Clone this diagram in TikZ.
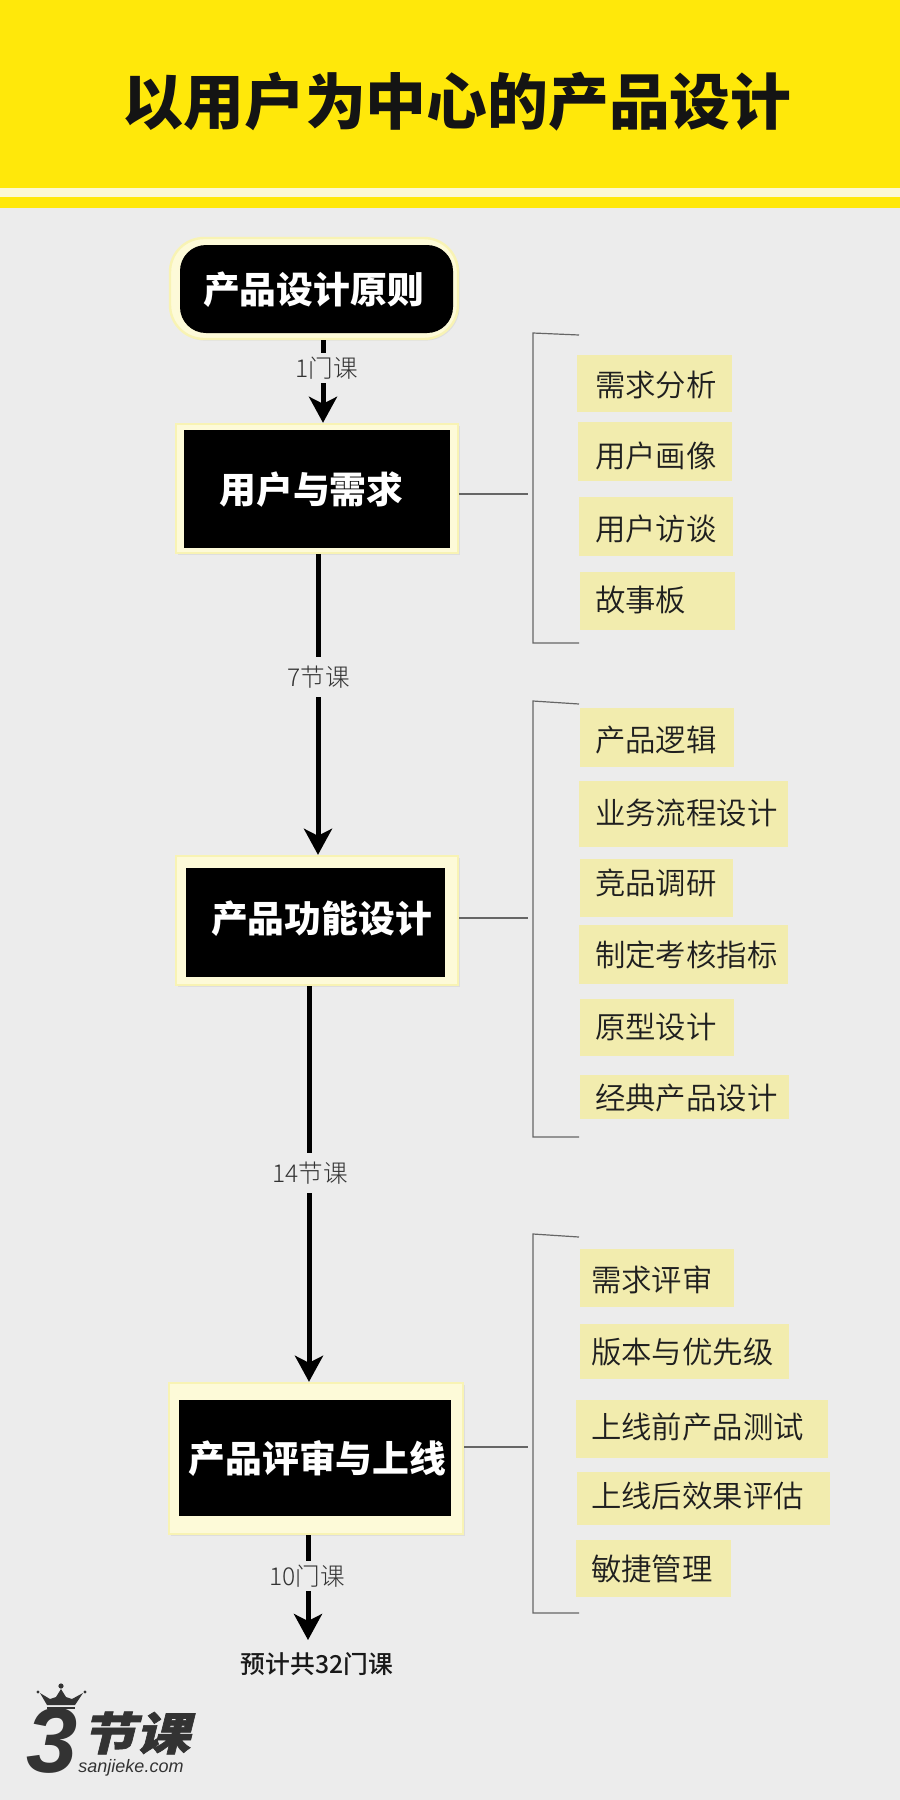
\documentclass[tikz,border=0pt]{standalone}
\usepackage{fontspec}
\usetikzlibrary{arrows.meta,shadows}
\setmainfont{Noto Sans CJK SC}
\newfontfamily\titlefont{Noto Sans CJK SC}
\newfontfamily\logocjk[FakeSlant=0.25,FakeBold=1.5,FakeStretch=1.2]{Noto Sans CJK SC}
\newfontfamily\logolat{Liberation Sans}
\newfontfamily\thinfont{Noto Sans CJK SC Light}
\newfontfamily\itemfont{Noto Sans CJK SC DemiLight}
\newfontfamily\midfont{Noto Sans CJK SC Medium}
\definecolor{bgc}{HTML}{ECECEC}
\definecolor{yel}{HTML}{FFE80A}
\definecolor{pale}{HTML}{FBF8D6}
\definecolor{creamc}{HTML}{FDFAD8}
\definecolor{creamedge}{HTML}{F8F3B4}
\definecolor{itemc}{HTML}{F2ECAE}
\definecolor{brk}{HTML}{666666}
\definecolor{logoc}{HTML}{333333}
\tikzset{
 outerbox/.style={fill=creamc,draw=creamedge,line width=1.2pt,inner sep=0pt,drop shadow={shadow xshift=.8pt,shadow yshift=-.8pt,opacity=.12}},
 innerbox/.style={fill=black,text=white,inner sep=0pt,font=\fontsize{18.4}{20}\selectfont\bfseries},
 itembox/.style={fill=itemc,inner ysep=0pt,align=left,text=black!88,font=\fontsize{15.2}{18}\itemfont},
 lesson/.style={fill=bgc,inner sep=0pt,minimum height=15pt,text=black!80,font=\fontsize{12.3}{14}\thinfont},
 flow/.style={line width=2.5pt,black},
 flowtip/.style={flow,-{Stealth[length=13pt,width=14pt,inset=3.5pt]}},
 bracket/.style={draw=brk,line width=.6pt},
 link/.style={draw=brk,line width=.6pt},
}
\newcommand{\nudge}[2]{\raisebox{#1}[.88em][.12em]{#2}}
% name, x1, y1, x2, y2, left padding, text raise, text
\newcommand{\itemnode}[8]{%
 \node[itembox,inner xsep=#6*0.5pt,text width={(#4-#2-2*#6)*0.5pt},minimum height={(#5-#3)*0.5pt}] (#1) at ({(#2+#4)/2},{(#3+#5)/2}) {\nudge{#7}{#8}};}
% name, x1, y1, x2, y2
\newcommand{\boxnode}[6]{%
 \node[#6,minimum width={(#4-#2)*0.5pt},minimum height={(#5-#3)*0.5pt}] (#1) at ({(#2+#4)/2},{(#3+#5)/2}) {};}
\newcommand{\shifted}[2]{\makebox[0pt][c]{\hspace*{#1}#2}}
\begin{document}
\begin{tikzpicture}[x=0.5pt,y=-0.5pt]
\useasboundingbox (0,0) rectangle (900,1800);
\fill[bgc] (0,0) rectangle (900,1800);
\fill[yel] (0,0) rectangle (900,188);
\fill[pale] (0,188) rectangle (900,197);
\fill[yel] (0,197) rectangle (900,208);
\node[inner sep=0pt,font=\fontsize{30.4}{33}\titlefont\bfseries,text=black!92] (title) at (457,102) {以用户为中心的产品设计};

% principle
\node[outerbox,rounded corners=17pt,minimum width=144pt,minimum height=50.5pt] (o0) at (314,288.5) {};
\node[innerbox,rounded corners=13pt,minimum width=136.5pt,minimum height=44pt] (i0) at (316.5,289) {\shifted{-3pt}{\nudge{-.3pt}{产品设计原则}}};

% stage boxes
\boxnode{o1}{176}{424}{458}{553}{outerbox}
\node[innerbox,minimum width=133pt,minimum height=59pt] (i1) at (317,489) {\shifted{-5.5pt}{\nudge{-.3pt}{用户与需求}}};
\boxnode{o2}{176}{856}{458}{985}{outerbox}
\node[innerbox,minimum width=129.5pt,minimum height=54.5pt] (i2) at (315.5,922.5) {\shifted{6pt}{\nudge{2pt}{产品功能设计}}};
\boxnode{o3}{169}{1383}{463}{1534}{outerbox}
\node[innerbox,minimum width=136pt,minimum height=58pt] (i3) at (315,1458) {\shifted{2.5pt}{\nudge{-.3pt}{产品评审与上线}}};

% lesson labels
\node[lesson] (l1) at (327,368) {1门课};
\node[lesson,minimum height=20pt] (l2) at (319,677) {7节课};
\node[lesson,minimum height=20pt] (l3) at (310,1173) {14节课};
\node[lesson] (l4) at (307,1576) {10门课};
\node[inner sep=0pt,font=\fontsize{12.4}{14}\midfont,text=black!90] (total) at (317,1664) {预计共32门课};

\coordinate (a1) at (323,368);
\coordinate (a2) at (318,677);
\coordinate (a3) at (309,1173);
\coordinate (a4) at (308,1576);
\draw[flow] (o0.south -| a1) -- (l1.north -| a1);
\draw[flowtip] (l1.south -| a1) -- (o1.north -| a1);
\draw[flow] (o1.south -| a2) -- (l2.north -| a2);
\draw[flowtip] (l2.south -| a2) -- (o2.north -| a2);
\draw[flow] (o2.south -| a3) -- (l3.north -| a3);
\draw[flowtip] (l3.south -| a3) -- (o3.north -| a3);
\draw[flow] (o3.south -| a4) -- (l4.north -| a4);
\draw[flowtip] (l4.south -| a4) -- ([yshift=6pt]total.north -| a4);

% group 1
\coordinate (b1t) at (533,333); \coordinate (b1ta) at (579,335);
\coordinate (b1b) at (533,643); \coordinate (b1ba) at (579,643);
\coordinate (c1) at (528,494);
\draw[bracket] (b1ta) -- (b1t) -- (b1b) -- (b1ba);
\draw[link] (o1.east |- c1) -- (c1);
\itemnode{a}{577}{355}{732}{412}{18}{-.6pt}{需求分析}
\itemnode{b}{578}{422}{732}{481}{17}{-2.3pt}{用户画像}
\itemnode{c}{579}{497}{733}{556}{16}{-1.2pt}{用户访谈}
\itemnode{d}{580}{572}{735}{630}{15}{.5pt}{故事板}

% group 2
\coordinate (b2t) at (533,701); \coordinate (b2ta) at (579,704);
\coordinate (b2b) at (533,1137); \coordinate (b2ba) at (579,1137);
\coordinate (c2) at (528,918);
\draw[bracket] (b2ta) -- (b2t) -- (b2b) -- (b2ba);
\draw[link] (o2.east |- c2) -- (c2);
\itemnode{e}{580}{708}{734}{767}{15}{-1.2pt}{产品逻辑}
\itemnode{f}{579}{781}{788}{847}{16}{.5pt}{业务流程设计}
\itemnode{g}{580}{859}{733}{917}{15}{2.3pt}{竞品调研}
\itemnode{h}{579}{925}{788}{984}{16}{0pt}{制定考核指标}
\itemnode{i}{580}{999}{734}{1056}{15}{.5pt}{原型设计}
\itemnode{j}{580}{1075}{789}{1119}{15}{-.6pt}{经典产品设计}

% group 3
\coordinate (b3t) at (533,1234); \coordinate (b3ta) at (579,1237);
\coordinate (b3b) at (533,1613); \coordinate (b3ba) at (579,1613);
\coordinate (c3) at (528,1447);
\draw[bracket] (b3ta) -- (b3t) -- (b3b) -- (b3ba);
\draw[link] (o3.east |- c3) -- (c3);
\itemnode{k}{580}{1249}{734}{1307}{11}{-1.2pt}{需求评审}
\itemnode{m}{580}{1324}{789}{1379}{11}{0pt}{版本与优先级}
\itemnode{n}{576}{1400}{828}{1458}{15}{1.2pt}{上线前产品测试}
\itemnode{p}{577}{1472}{830}{1525}{14}{1.2pt}{上线后效果评估}
\itemnode{q}{576}{1540}{731}{1597}{15}{0pt}{敏捷管理}

% logo
\fill[logoc] (40,1693) -- (50,1699) -- (56,1697) -- (61,1689) -- (66,1697) -- (72,1699) -- (83,1693) -- (75,1705) -- (47,1705) -- cycle;
\fill[logoc] (38,1692) circle (1.6) (61,1686) circle (2.6) (85,1692) circle (1.6);
\fill[logoc] (47,1706.5) rectangle (75,1708.5);
\node[inner sep=0pt,text=logoc,font=\fontsize{46}{48}\logolat\bfseries\itshape] (three) at (52,1741) {3};
\node[inner sep=0pt,text=logoc,font=\fontsize{22.5}{28}\logocjk\bfseries] (logotxt) at (136,1733) {节课};
\node[inner sep=0pt,text=logoc,font=\fontsize{9}{10}\logolat\itshape] (logourl) at (131,1768) {sanjieke.com};
\end{tikzpicture}
\end{document}
